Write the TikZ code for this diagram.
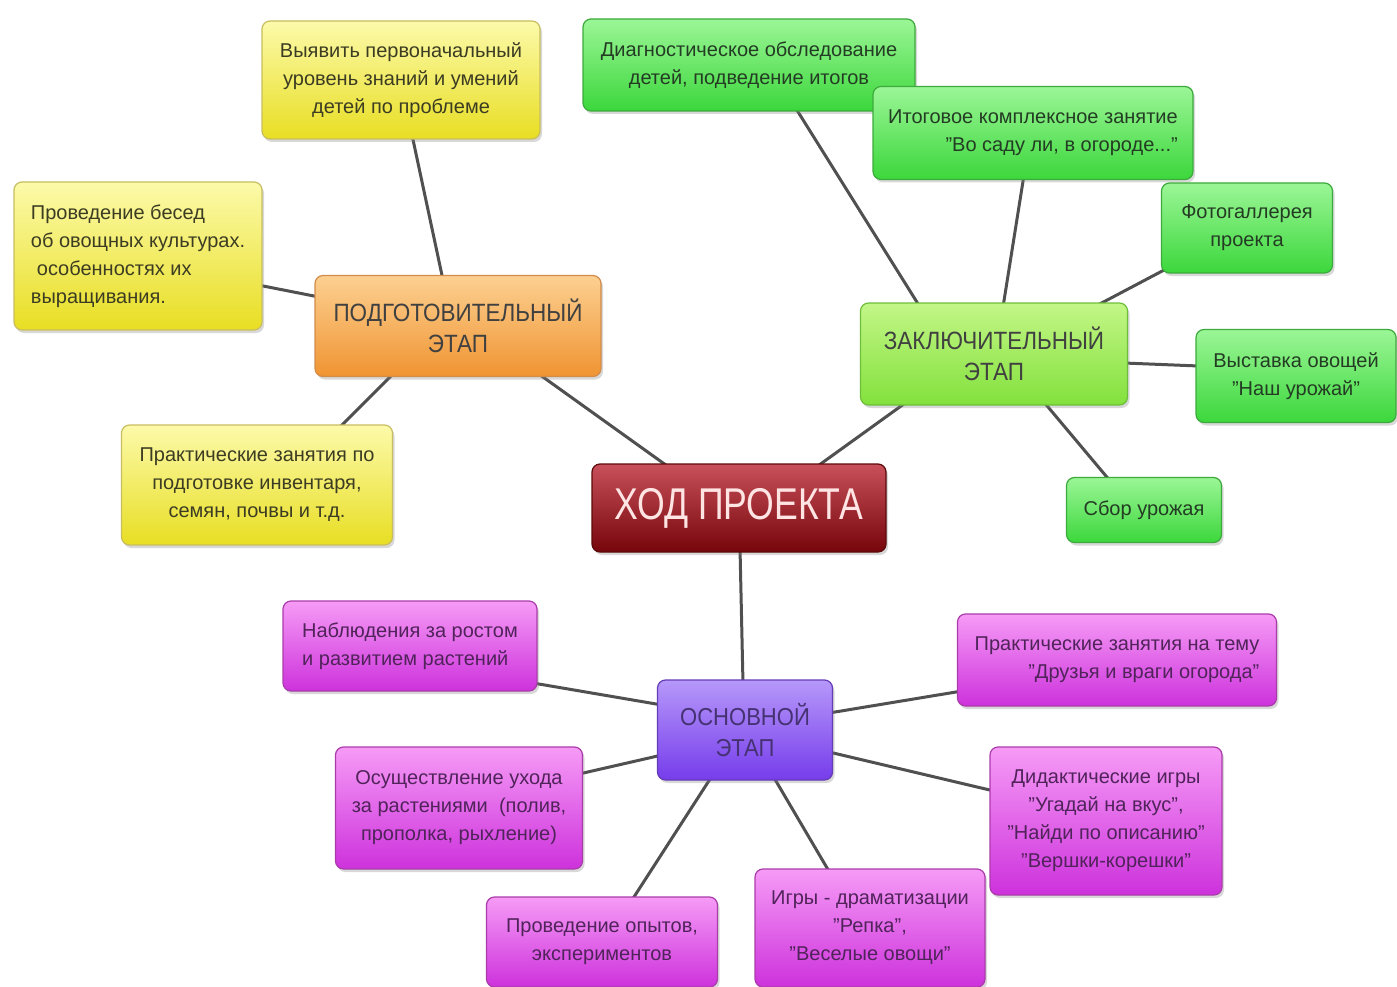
\documentclass[tikz,border=0pt]{standalone}
\usepackage{fontspec}
\setmainfont{Liberation Sans}
\newfontfamily\condA{Liberation Sans}[FakeStretch=0.9]
\newfontfamily\condB{Liberation Sans}[FakeStretch=0.8]
\usetikzlibrary{shadows,backgrounds,calc}
\newcommand{\qd}{\char34\relax}

\definecolor{yelT}{RGB}{252,250,170}
\definecolor{yelD}{RGB}{232,222,35}
\definecolor{yelB}{RGB}{200,190,95}
\definecolor{yelX}{RGB}{60,60,35}
\definecolor{orT}{RGB}{252,208,145}
\definecolor{orD}{RGB}{240,148,50}
\definecolor{orB}{RGB}{210,140,75}
\definecolor{hodT}{RGB}{200,80,90}
\definecolor{hodD}{RGB}{118,5,10}
\definecolor{hodB}{RGB}{90,10,10}
\definecolor{hodX}{RGB}{255,228,228}
\definecolor{grT}{RGB}{155,246,150}
\definecolor{grD}{RGB}{60,215,60}
\definecolor{grB}{RGB}{60,170,60}
\definecolor{grX}{RGB}{35,60,35}
\definecolor{zkT}{RGB}{195,246,135}
\definecolor{zkD}{RGB}{130,225,60}
\definecolor{zkB}{RGB}{110,190,60}
\definecolor{puT}{RGB}{246,155,246}
\definecolor{puD}{RGB}{205,50,220}
\definecolor{puB}{RGB}{170,60,170}
\definecolor{puX}{RGB}{80,35,90}
\definecolor{osT}{RGB}{182,152,250}
\definecolor{osD}{RGB}{118,60,235}
\definecolor{osB}{RGB}{100,60,180}
\definecolor{osX}{RGB}{70,50,115}
\definecolor{lineC}{RGB}{80,80,80}

\tikzset{
  box/.style={rounded corners=8pt, line width=1.2pt, inner sep=0pt, align=center,
    drop shadow={shadow xshift=2pt, shadow yshift=-3pt, opacity=0.3},
    font=\fontsize{20}{28}\selectfont},
  yel/.style={box, draw=yelB, top color=yelT, bottom color=yelD, text=yelX},
  orng/.style={box, draw=orB, top color=orT, bottom color=orD, text=black!75,
    font=\condA\fontsize{25}{31}\selectfont},
  hodbox/.style={box, draw=hodB, top color=hodT, bottom color=hodD, text=hodX,
    font=\condB\fontsize{44.5}{50}\selectfont},
  grn/.style={box, draw=grB, top color=grT, bottom color=grD, text=grX},
  zkbox/.style={box, draw=zkB, top color=zkT, bottom color=zkD, text=black!75,
    font=\condA\fontsize{25}{31}\selectfont},
  pur/.style={box, draw=puB, top color=puT, bottom color=puD, text=puX},
  osbox/.style={box, draw=osB, top color=osT, bottom color=osD, text=osX,
    font=\condA\fontsize{24.5}{31}\selectfont},
  conn/.style={draw=lineC, line width=3pt},
}

\begin{document}
\begin{tikzpicture}[x=1pt, y=-1pt]
\path[use as bounding box] (0,0) rectangle (1397,987);

% centre
\node[hodbox, minimum width=294pt, minimum height=88pt] (hod) at (739,508) {ХОД ПРОЕКТА};

% preparatory stage
\node[orng, minimum width=286pt, minimum height=101pt] (podg) at (458,326) {ПОДГОТОВИТЕЛЬНЫЙ\\ЭТАП};
\node[yel, minimum width=278pt, minimum height=118pt] (y1) at (401,80) {Выявить первоначальный\\уровень знаний и умений\\детей по проблеме};
\node[yel, minimum width=248pt, minimum height=148pt, align=left] (y2) at (138,256) {Проведение бесед\\об овощных культурах.\\\hspace{6pt}особенностях их\\выращивания.};
\node[yel, minimum width=271pt, minimum height=120pt] (y3) at (257,485) {Практические занятия по\\подготовке инвентаря,\\семян, почвы и т.д.};

% final stage
\node[zkbox, minimum width=267pt, minimum height=102pt] (zak) at (994,354) {ЗАКЛЮЧИТЕЛЬНЫЙ\\ЭТАП};
\node[grn, minimum width=332pt, minimum height=92pt] (g1) at (749,65) {Диагностическое обследование\\детей, подведение итогов};
\node[grn, minimum width=320pt, minimum height=93pt, align=right] (g2) at (1033,133) {Итоговое комплексное занятие\\\qd Во саду ли, в огороде...\qd};
\node[grn, minimum width=171pt, minimum height=90pt] (g3) at (1247,228) {Фотогаллерея\\проекта};
\node[grn, minimum width=200pt, minimum height=93pt] (g4) at (1296,376) {Выставка овощей\\\qd Наш урожай\qd};
\node[grn, minimum width=155pt, minimum height=65pt] (g5) at (1144,510) {Сбор урожая};

% main stage
\node[osbox, minimum width=175pt, minimum height=100pt] (osn) at (745,730) {ОСНОВНОЙ\\ЭТАП};
\node[pur, minimum width=254pt, minimum height=90pt, align=left] (p1) at (410,646) {Наблюдения за ростом\\и развитием растений};
\node[pur, minimum width=247pt, minimum height=122pt] (p2) at (459,808) {Осуществление ухода\\за растениями\ \ (полив,\\прополка, рыхление)};
\node[pur, minimum width=231pt, minimum height=90pt] (p3) at (602,942) {Проведение опытов,\\экспериментов};
\node[pur, minimum width=230pt, minimum height=118pt] (p4) at (870,928) {Игры - драматизации\\\qd Репка\qd,\\\qd Веселые овощи\qd};
\node[pur, minimum width=319pt, minimum height=92pt, align=right] (p5) at (1117,660) {Практические занятия на тему\\\qd Друзья и враги огорода\qd};
\node[pur, minimum width=232pt, minimum height=148pt] (p6) at (1106,821) {Дидактические игры\\\qd Угадай на вкус\qd,\\\qd Найди по описанию\qd\\\qd Вершки-корешки\qd};

\begin{scope}[on background layer]
\fill[white] (0,0) rectangle (1397,987);
\draw[conn] ([shift={(-69,-40)}]hod.center) -- ([shift={(78,46)}]podg.center);
\draw[conn] ([shift={(76,-40)}]hod.center) -- ([shift={(-86,47)}]zak.center);
\draw[conn] ([shift={(1,40)}]hod.center) -- ([shift={(-2,-46)}]osn.center);
\draw[conn] ([shift={(-15,-46)}]podg.center) -- ([shift={(11,55)}]y1.center);
\draw[conn] ([shift={(-139,-29)}]podg.center) -- ([shift={(120,29)}]y2.center);
\draw[conn] ([shift={(-63,46)}]podg.center) -- ([shift={(81,-56)}]y3.center);
\draw[conn] ([shift={(-74,-47)}]zak.center) -- ([shift={(46,42)}]g1.center);
\draw[conn] ([shift={(9,-47)}]zak.center) -- ([shift={(-9,42)}]g2.center);
\draw[conn] ([shift={(100,-47)}]zak.center) -- ([shift={(-81,41)}]g3.center);
\draw[conn] ([shift={(130,9)}]zak.center) -- ([shift={(-97,-10)}]g4.center);
\draw[conn] ([shift={(49,47)}]zak.center) -- ([shift={(-33,-28)}]g5.center);
\draw[conn] ([shift={(-83,-25)}]osn.center) -- ([shift={(123,37)}]p1.center);
\draw[conn] ([shift={(-83,25)}]osn.center) -- ([shift={(120,-34)}]p2.center);
\draw[conn] ([shift={(-33,46)}]osn.center) -- ([shift={(30,-42)}]p3.center);
\draw[conn] ([shift={(28,46)}]osn.center) -- ([shift={(-40,-55)}]p4.center);
\draw[conn] ([shift={(84,-17)}]osn.center) -- ([shift={(-155,31)}]p5.center);
\draw[conn] ([shift={(84,22)}]osn.center) -- ([shift={(-112,-30)}]p6.center);
\end{scope}
\end{tikzpicture}
\end{document}
